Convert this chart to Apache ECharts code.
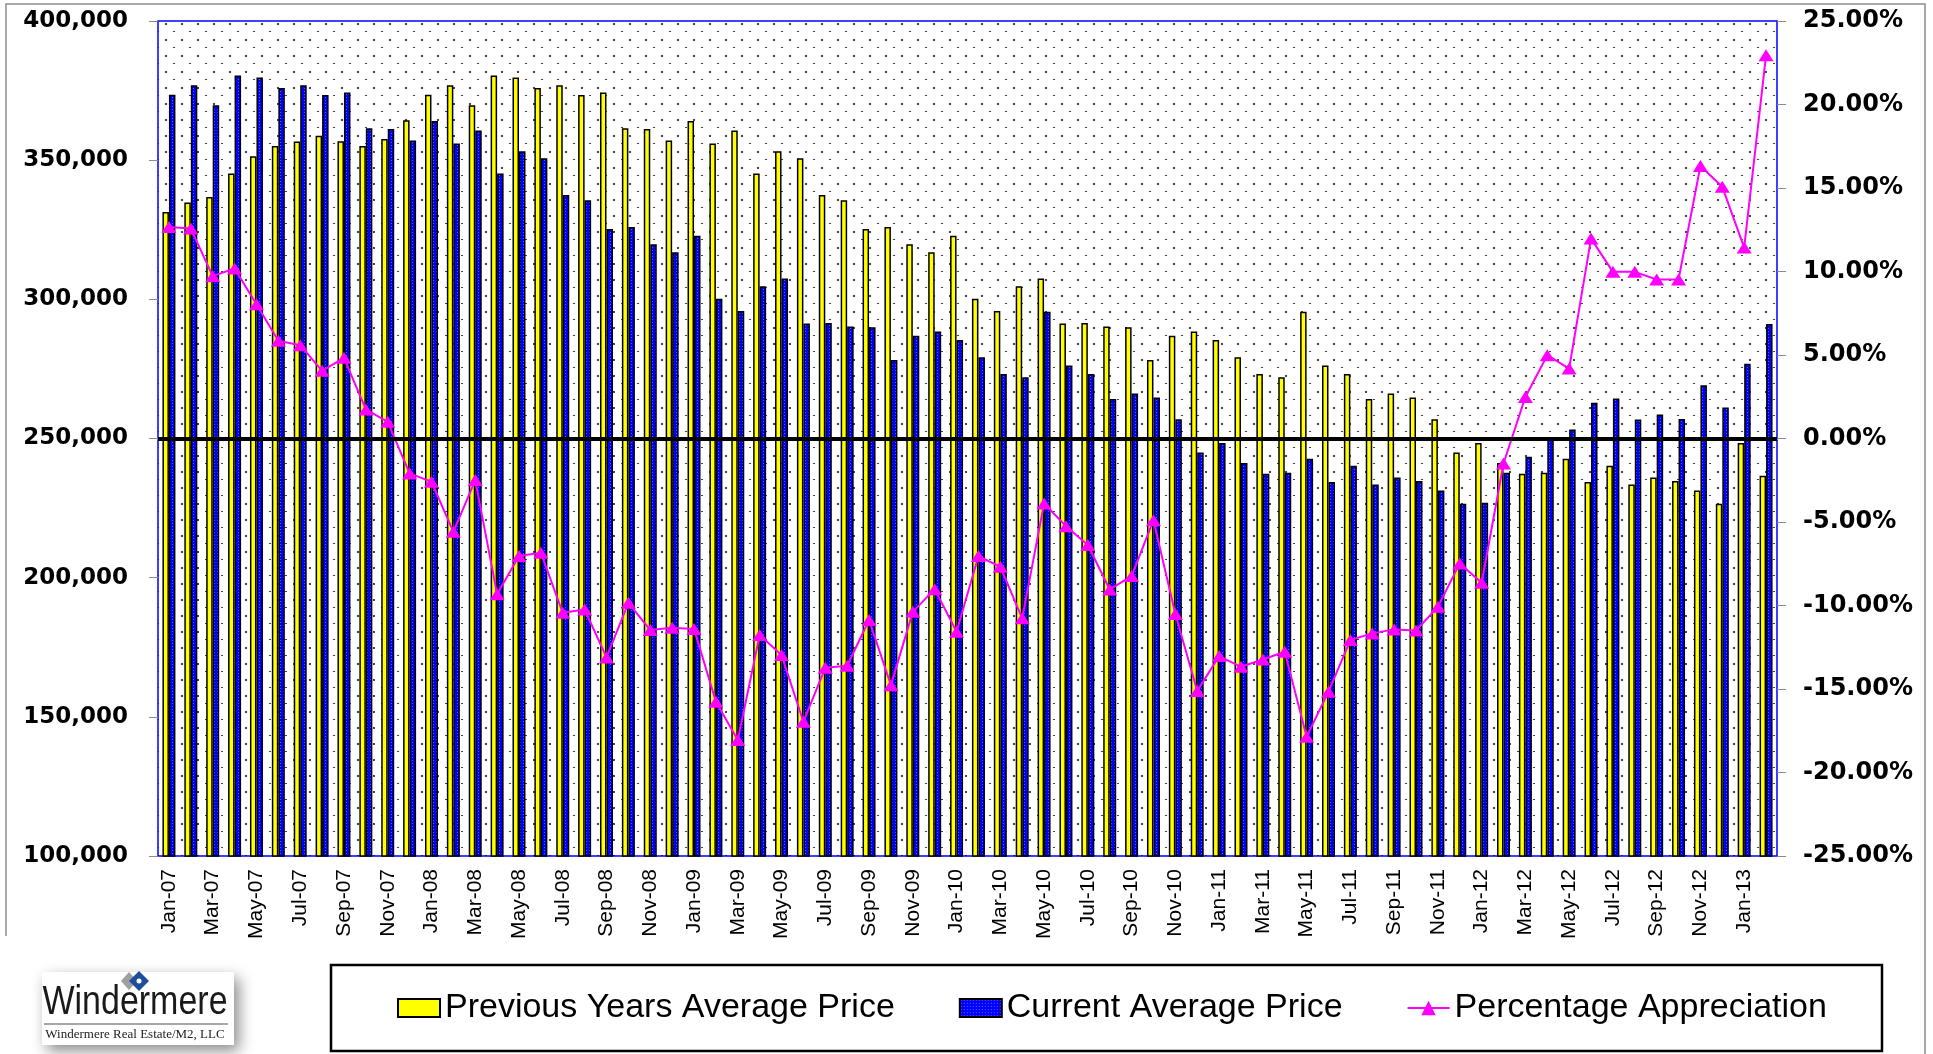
<!DOCTYPE html>
<html>
<head>
<meta charset="utf-8">
<title>Previous vs Current Average Price</title>
<script src="https://cdn.jsdelivr.net/npm/echarts@6.0.0/dist/echarts.min.js"></script>
<style>
  html, body { margin: 0; padding: 0; background: #fff; }
  #chart { width: 1933px; height: 1054px; }
</style>
</head>
<body>
<div id="chart"></div>
<script>
// months shown on the category axis
const categories = [
  'Jan-07','Feb-07','Mar-07','Apr-07','May-07','Jun-07','Jul-07','Aug-07','Sep-07','Oct-07','Nov-07','Dec-07',
  'Jan-08','Feb-08','Mar-08','Apr-08','May-08','Jun-08','Jul-08','Aug-08','Sep-08','Oct-08','Nov-08','Dec-08',
  'Jan-09','Feb-09','Mar-09','Apr-09','May-09','Jun-09','Jul-09','Aug-09','Sep-09','Oct-09','Nov-09','Dec-09',
  'Jan-10','Feb-10','Mar-10','Apr-10','May-10','Jun-10','Jul-10','Aug-10','Sep-10','Oct-10','Nov-10','Dec-10',
  'Jan-11','Feb-11','Mar-11','Apr-11','May-11','Jun-11','Jul-11','Aug-11','Sep-11','Oct-11','Nov-11','Dec-11',
  'Jan-12','Feb-12','Mar-12','Apr-12','May-12','Jun-12','Jul-12','Aug-12','Sep-12','Oct-12','Nov-12','Dec-12',
  'Jan-13','Feb-13'
];

const previousPrice = [
  331400, 334800, 336800, 345200, 351400, 355100, 356700, 358800, 356800, 355100, 357600, 364300,
  373500, 376900, 369700, 380400, 379700, 375900, 376900, 373400, 374300, 361500, 361200, 357100,
  364100, 356000, 360700, 345200, 353200, 350700, 337500, 335600, 325300, 326000, 319800, 316900,
  322800, 300200, 295800, 304700, 307500, 291300, 291500, 290200, 290000, 278200, 286900, 288400,
  285400, 279200, 273200, 272000, 295500, 276200, 273200, 264200, 266200, 264700, 256900, 245000,
  248400, 241200, 237300, 237700, 242700, 234400, 240200, 233500, 236000, 234700, 231300, 226600,
  248400, 236600
];

const currentPrice = [
  373500, 376900, 369700, 380400, 379700, 375900, 376900, 373400, 374300, 361500, 361200, 357100,
  364100, 356000, 360700, 345200, 353200, 350700, 337500, 335600, 325300, 326000, 319800, 316900,
  322800, 300200, 295800, 304700, 307500, 291300, 291500, 290200, 290000, 278200, 286900, 288400,
  285400, 279200, 273200, 272000, 295500, 276200, 273200, 264200, 266200, 264700, 256900, 245000,
  248400, 241200, 237300, 237700, 242700, 234400, 240200, 233500, 236000, 234700, 231300, 226600,
  226900, 237700, 243400, 249600, 253200, 262800, 264400, 256800, 258600, 257000, 269100, 261100,
  276900, 291100
];

// percent
const appreciation = [
  12.67, 12.57, 9.72, 10.18, 8.04, 5.85, 5.59, 4.05, 4.83, 1.74, 1.0, -2.09,
  -2.59, -5.59, -2.49, -9.32, -7.04, -6.84, -10.44, -10.24, -13.11, -9.84, -11.47, -11.33,
  -11.4, -15.76, -18.06, -11.77, -12.97, -16.96, -13.73, -13.61, -10.87, -14.77, -10.38, -9.02,
  -11.57, -7.04, -7.68, -10.77, -3.89, -5.25, -6.38, -9.04, -8.24, -4.89, -10.51, -15.12,
  -13.03, -13.67, -13.23, -12.77, -17.86, -15.16, -12.07, -11.67, -11.43, -11.5, -10.08, -7.48,
  -8.64, -1.5, 2.49, 4.99, 4.19, 11.97, 9.98, 9.98, 9.52, 9.52, 16.32, 15.07,
  11.43, 22.95
];

const priceAxis = [100000, 400000, 50000];   // min, max, step
const pctAxis = [-25, 25, 5];

// dotted plot background
function dotPattern() {
  const c = document.createElement('canvas');
  c.width = 16; c.height = 16;
  const g = c.getContext('2d');
  g.fillStyle = '#fff';
  g.fillRect(0, 0, 16, 16);
  g.fillStyle = '#444';
  g.fillRect(5, 7, 2, 2);
  g.fillRect(13, 15, 2, 2);
  return c;
}
// blue with faint light dots
function bluePattern() {
  const c = document.createElement('canvas');
  c.width = 3; c.height = 3;
  const g = c.getContext('2d');
  g.fillStyle = '#0000ff';
  g.fillRect(0, 0, 3, 3);
  g.fillStyle = '#4d5cff';
  g.fillRect(1, 1, 1, 1);
  return c;
}

function fontAvailable(name) {
  const g = document.createElement('canvas').getContext('2d');
  const s = 'Percentage Appreciation';
  g.font = '40px monospace';
  const a = g.measureText(s).width;
  g.font = "40px '" + name + "', monospace";
  return g.measureText(s).width !== a;
}

const narrow = fontAvailable('Liberation Sans Narrow');
const legendFont = narrow
  ? { fontFamily: "'Liberation Sans Narrow'", fontSize: 41 }
  : { fontFamily: "'Liberation Sans', Arial", fontSize: 34 };

const blueFill = { image: bluePattern(), repeat: 'repeat' };

const myChart = echarts.init(document.getElementById('chart'), null, { renderer: 'canvas' });

const option = {
  animation: false,
  backgroundColor: '#fff',
  grid: {
    left: 158, right: 156, top: 21, bottom: 198,
    show: true,
    backgroundColor: { image: dotPattern(), repeat: 'repeat' },
    borderColor: '#0000ff',
    borderWidth: 1.5,
    outerBoundsMode: 'none'
  },
  legend: {
    left: 397, top: 986,
    padding: 0,
    itemWidth: 42, itemHeight: 18, itemGap: 64,
    selectedMode: false,
    textStyle: Object.assign({ color: '#000', lineHeight: 44 }, legendFont),
    data: [
      { name: 'Previous Years Average Price', icon: 'rect', itemStyle: { color: '#ffff00', borderColor: '#000', borderWidth: 2 } },
      { name: 'Current Average Price', icon: 'rect', itemStyle: { color: blueFill, borderColor: '#000', borderWidth: 2 } },
      { name: 'Percentage Appreciation' }
    ]
  },
  xAxis: {
    type: 'category',
    data: categories,
    boundaryGap: true,
    axisLine: { lineStyle: { color: '#8a8a8a', width: 2 } },
    axisTick: { interval: 1, length: 7, lineStyle: { color: '#8a8a8a', width: 1.5 } },
    axisLabel: {
      interval: 1, rotate: 90, margin: 13,
      color: '#000', fontSize: 21, fontFamily: "'Liberation Sans', Arial"
    },
    splitLine: { show: false }
  },
  yAxis: [
    {
      type: 'value',
      min: priceAxis[0], max: priceAxis[1], interval: priceAxis[2],
      axisLine: { show: false },
      axisTick: { show: true, length: 9, lineStyle: { color: '#8a8a8a', width: 1 } },
      splitLine: { show: false },
      axisLabel: {
        margin: 30, color: '#000', fontSize: 23, fontWeight: 'bold', fontFamily: "'DejaVu Sans'",
        formatter: v => v.toLocaleString('en-US')
      }
    },
    {
      type: 'value',
      min: pctAxis[0], max: pctAxis[1], interval: pctAxis[2],
      axisLine: { show: false },
      axisTick: { show: true, length: 9, lineStyle: { color: '#8a8a8a', width: 1 } },
      splitLine: { show: false },
      axisLabel: {
        margin: 26, color: '#000', fontSize: 24, fontWeight: 'bold', fontFamily: "'DejaVu Sans'",
        formatter: v => v.toFixed(2) + '%'
      }
    }
  ],
  series: [
    {
      name: 'Previous Years Average Price',
      type: 'bar',
      data: previousPrice,
      barWidth: 6.5,
      barGap: '0%',
      itemStyle: { color: '#ffff00', borderColor: '#000', borderWidth: 1.5 },
      emphasis: { disabled: true }
    },
    {
      name: 'Current Average Price',
      type: 'bar',
      data: currentPrice,
      barWidth: 6.5,
      barGap: '0%',
      itemStyle: { color: blueFill, borderColor: '#000', borderWidth: 1.5 },
      emphasis: { disabled: true }
    },
    {
      name: 'Percentage Appreciation',
      type: 'line',
      yAxisIndex: 1,
      data: appreciation,
      symbol: 'triangle',
      symbolSize: [15, 12],
      lineStyle: { color: '#ff00ff', width: 2 },
      itemStyle: { color: '#ff00ff' },
      emphasis: { disabled: true },
      z: 4,
      markLine: {
        silent: true,
        symbol: 'none',
        label: { show: false },
        lineStyle: { color: '#000', width: 4, type: 'solid' },
        emphasis: { disabled: true },
        data: [{ yAxis: 0 }]
      }
    }
  ],
  graphic: [
    // chart area frame
    {
      type: 'polyline', silent: true, z: 0,
      shape: { points: [[6, 936], [6, 4], [1925, 4], [1925, 1054]] },
      style: { stroke: '#8c8c8c', lineWidth: 1.5, fill: null }
    },
    // legend frame
    {
      type: 'rect', silent: true, z: 1,
      shape: { x: 331, y: 965, width: 1551, height: 86 },
      style: { fill: '#fff', stroke: '#000', lineWidth: 2.5 }
    },
    // logo
    {
      type: 'group', silent: true, z: 1,
      children: [
        {
          type: 'rect',
          shape: { x: 42, y: 972, width: 192, height: 73 },
          style: { fill: '#fff', shadowBlur: 14, shadowOffsetX: 5, shadowOffsetY: 6, shadowColor: 'rgba(0,0,0,0.45)' }
        },
        {
          type: 'polygon',
          shape: { points: [[121, 981], [129, 972], [137, 981], [129, 990]] },
          style: { fill: '#a0a0a0' }
        },
        {
          type: 'polygon',
          shape: { points: [[129, 981], [139, 971], [149, 981], [139, 991]] },
          style: { fill: '#1e4d9b' }
        },
        {
          type: 'circle',
          shape: { cx: 139, cy: 981, r: 2.5 },
          style: { fill: '#fff' }
        },
        {
          type: 'text',
          x: 135, y: 1003, scaleX: 0.85, scaleY: 1,
          style: {
            text: 'Windermere', fill: '#1a1a1a',
            font: "40px 'Liberation Sans', Arial",
            align: 'center', verticalAlign: 'middle'
          }
        },
        {
          type: 'line',
          shape: { x1: 44, y1: 1024, x2: 228, y2: 1024 },
          style: { stroke: '#8a8a8a', lineWidth: 1.5 }
        },
        {
          type: 'text',
          x: 135, y: 1035,
          style: {
            text: 'Windermere Real Estate/M2, LLC', fill: '#222',
            font: "13px 'Liberation Serif', 'Times New Roman', serif",
            align: 'center', verticalAlign: 'middle'
          }
        }
      ]
    }
  ]
};

myChart.setOption(option);
</script>
</body>
</html>
